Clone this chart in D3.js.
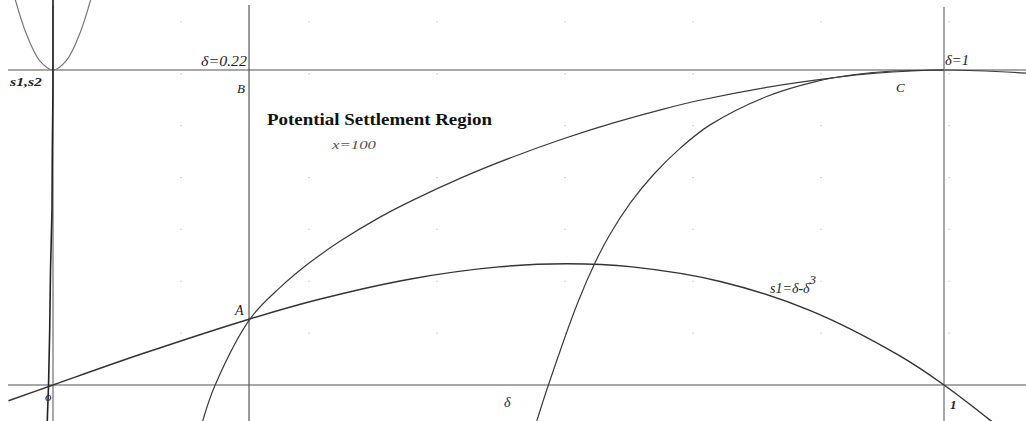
<!DOCTYPE html>
<html lang="en">
<head>
	<meta charset="UTF-8">
	<title>Potential Settlement Region</title>
	<script src="https://cdn.jsdelivr.net/npm/d3@7"></script>
	<style>
		body { margin: 0; background: #fff; }
		svg { display: block; }
		.curve { fill: none; stroke: #3a3a3a; stroke-width: 1.2px; }
		.lbl { font-family: "Liberation Serif", "DejaVu Serif", serif; font-style: italic; fill: #222; }
	</style>
</head>
<body>
<script>
	// values (delta on x, s on y)
	var cubicDelta = [-0.05, 0, 0.1, 0.22, 0.3, 0.4, 0.5, 0.577, 0.65, 0.75, 0.85, 0.95, 1.0, 1.06];
	var cubicS     = [-0.05, 0, 0.099, 0.209, 0.273, 0.336, 0.375, 0.385, 0.375, 0.328, 0.236, 0.093, 0, -0.13];

	var curveADelta = [0.168, 0.182, 0.222, 0.255, 0.286, 0.322, 0.367, 0.404, 0.460, 0.516, 0.572, 0.629, 0.685, 0.726, 0.801, 0.875, 0.920, 1.0, 1.092];
	var curveAS     = [-0.114, 0, 0.213, 0.31, 0.384, 0.456, 0.533, 0.587, 0.660, 0.724, 0.781, 0.832, 0.876, 0.904, 0.945, 0.975, 0.989, 1.0, 0.99];

	var curveBDelta = [0.543, 0.556, 0.589, 0.609, 0.625, 0.648, 0.673, 0.704, 0.737, 0.801, 0.857, 0.898, 0.939, 1.0];
	var curveBS     = [-0.114, 0, 0.262, 0.392, 0.478, 0.578, 0.665, 0.752, 0.825, 0.916, 0.964, 0.985, 0.996, 1.0];

	var steepDelta = [-0.0065, -0.005, -0.0037, -0.0028, -0.0011, -0.0008, 0, 0, 0];
	var steepS     = [-0.12, 0, 0.175, 0.365, 0.556, 0.73, 0.95, 1.0, 1.23];

	var parabolaDelta = [-0.044, -0.03, -0.015, 0, 0.015, 0.03, 0.044];
	var parabolaS     = [1.24, 1.115, 1.03, 1.0, 1.03, 1.115, 1.24];

	var vLines = [0, 0.22, 1];   // delta = 0, 0.22, 1
	var hLines = [0, 1];         // s = 0, 1

	var width = 1026, height = 421;

	var x = d3.scaleLinear().domain([0, 1]).range([53, 944]);
	var y = d3.scaleLinear().domain([0, 1]).range([385, 70]);

	var svg = d3.select("body").append("svg")
		.attr("width", width)
		.attr("height", height);

	// sketch grid dots
	var gx = 128 / 891, gy = 51.9 / 315;
	var dots = [];
	d3.range(-1, 8).forEach(function(i) {
		d3.range(-1, 8).forEach(function(j) {
			dots.push([i * gx, j * gy]);
		});
	});
	svg.append("g").selectAll("rect").data(dots).enter().append("rect")
		.attr("x", function(d) { return x(d[0]) - 0.5; })
		.attr("y", function(d) { return y(d[1]) - 0.5; })
		.attr("width", 1.2).attr("height", 1.2)
		.attr("fill", "#c4c4c4");

	// reference lines
	svg.append("g").selectAll("line").data(hLines).enter().append("line")
		.attr("x1", 8).attr("x2", width)
		.attr("y1", function(d) { return y(d); })
		.attr("y2", function(d) { return y(d); })
		.attr("stroke", "#a8a8a8").attr("stroke-width", 2);

	svg.append("g").selectAll("line").data(vLines).enter().append("line")
		.attr("x1", function(d) { return x(d); })
		.attr("x2", function(d) { return x(d); })
		.attr("y1", function(d) { return d === 1 ? 7 : 5; }).attr("y2", height)
		.attr("stroke", function(d) { return d === 0.22 ? "#555" : "#a8a8a8"; })
		.attr("stroke-width", function(d) { return d === 0.22 ? 1.2 : 2; });

	var line = d3.line()
		.x(function(d) { return x(d[0]); })
		.y(function(d) { return y(d[1]); })
		.curve(d3.curveCatmullRom.alpha(0.5));

	function pairs(a, b) { return a.map(function(v, i) { return [v, b[i]]; }); }

	svg.append("path").datum(pairs(parabolaDelta, parabolaS))
		.attr("class", "curve").style("stroke", "#777")
		.attr("d", line);

	svg.append("path").datum(pairs(steepDelta, steepS))
		.attr("class", "curve").style("stroke", "#222").style("stroke-width", "1.6px")
		.attr("d", d3.line().x(function(d) { return x(d[0]); }).y(function(d) { return y(d[1]); }));

	svg.append("path").datum(pairs(cubicDelta, cubicS))
		.attr("class", "curve").style("stroke", "#333").style("stroke-width", "1.5px")
		.attr("d", line);

	svg.append("path").datum(pairs(curveADelta, curveAS))
		.attr("class", "curve")
		.attr("d", line);

	svg.append("path").datum(pairs(curveBDelta, curveBS))
		.attr("class", "curve")
		.attr("d", line);

	// labels
	function label(t, px, py, size, len) {
		var el = svg.append("text").attr("class", "lbl")
			.attr("x", px).attr("y", py)
			.style("font-size", size + "px")
			.text(t);
		if (len) el.attr("textLength", len).attr("lengthAdjust", "spacingAndGlyphs");
		return el;
	}
	label("s1,s2", x(0) - 43, y(1) + 16, 12, 32).style("font-weight", "bold");
	label("\u03b4=0.22", x(0.22) - 48, y(1) - 4, 14, 46);
	label("B", x(0.22) - 12, y(1) + 23, 13);
	label("A", x(0.22) - 14, y(0.213) - 3, 14);
	label("C", 896, y(1) + 22, 13);
	label("\u03b4=1", x(1) + 1, y(1) - 5, 14, 24);
	label("o", x(0) - 8, y(0) + 16, 13);
	label("\u03b4", 504, y(0) + 22, 14);
	label("1", x(1) + 6, y(0) + 24, 13).style("font-weight", "bold");
	label("x=100", 332, 149, 13, 44).style("fill", "#555");

	var s1 = label("s1=\u03b4-\u03b4", 770, 293, 14);
	s1.append("tspan").attr("dy", -9).style("font-size", "13px").text("3");

	svg.append("text")
		.attr("x", 267).attr("y", 125)
		.style("font-family", "'Liberation Serif', 'DejaVu Serif', serif")
		.style("font-weight", "bold")
		.style("font-size", "17px")
		.attr("textLength", 225)
		.attr("lengthAdjust", "spacingAndGlyphs")
		.attr("fill", "#111")
		.text("Potential Settlement Region");
</script>
</body>
</html>
